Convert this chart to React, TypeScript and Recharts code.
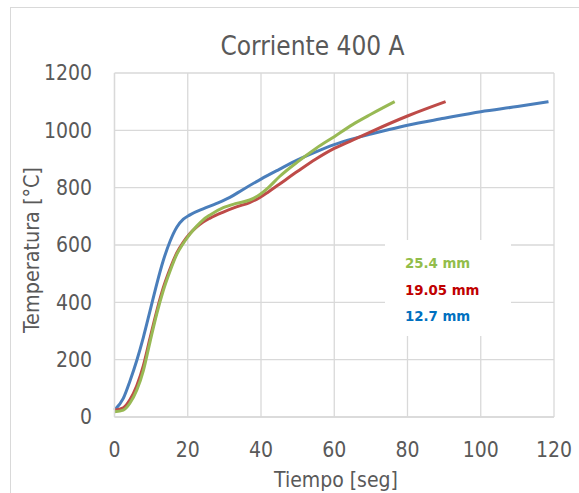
import { LineChart, Line, XAxis, YAxis, CartesianGrid, Legend } from 'recharts';

// tiempo [seg] / temperatura [°C]
const tiempo127 = [0, 2.4, 4.2, 6.1, 7.9, 9.7, 11.5, 13.3, 15.2, 17, 18.8, 20.6, 24.2, 27.9, 31.5, 35, 40, 45, 50, 55, 60, 65, 70, 75, 80, 90, 100, 110, 118.5];
const temp127 = [24, 65, 125, 198, 279, 370, 462, 545, 614, 662, 690, 705, 726, 745, 766, 793, 830, 864, 897, 925, 950, 970, 987, 1003, 1018, 1042, 1065, 1083, 1100];

const tiempo1905 = [0, 2.4, 4.2, 6.1, 7.9, 9.7, 11.5, 13.3, 15.2, 17, 18.8, 20.6, 22.4, 24.2, 26.1, 29.7, 33.3, 36.9, 39.6, 42, 45, 50, 55, 60, 65, 70, 80, 90.4];
const temp1905 = [24, 32, 60, 110, 180, 275, 368, 450, 518, 572, 610, 640, 662, 680, 694, 715, 733, 748, 765, 785, 812, 857, 900, 937, 966, 995, 1050, 1100];

const tiempo254 = [0, 2.4, 4.2, 6.1, 7.9, 9.7, 11.5, 13.3, 15.2, 17, 18.8, 20.6, 22.4, 24.2, 26.1, 29.7, 33.3, 36.9, 39.6, 42, 45, 50, 55, 60, 65, 70, 76.5];
const temp254 = [18, 24, 48, 94, 163, 262, 358, 440, 510, 567, 606, 638, 665, 688, 705, 730, 745, 757, 775, 800, 838, 890, 937, 978, 1020, 1056, 1100];

const xTicks = [0, 20, 40, 60, 80, 100, 120];
const yTicks = [0, 200, 400, 600, 800, 1000, 1200];

const series = [
  { name: '12.7 mm', t: tiempo127, v: temp127, line: '#4A7EBB', label: '#0070C0' },
  { name: '19.05 mm', t: tiempo1905, v: temp1905, line: '#BE4B48', label: '#C00000' },
  { name: '25.4 mm', t: tiempo254, v: temp254, line: '#98B954', label: '#92BD4A' },
];

const toRows = (t: number[], v: number[]) => t.map((x, i) => ({ t: x, temp: v[i] }));

const FONT = "'DejaVu Sans Condensed', 'DejaVu Sans', sans-serif";
const GREY = '#595959';

const LegendBox = () => (
  <div style={{ background: '#fff', width: 126, height: 96, boxSizing: 'border-box', paddingTop: 10, paddingLeft: 20 }}>
    {[...series].reverse().map((s) => (
      <div key={s.name} style={{ color: s.label, fontWeight: 'bold', fontSize: 14.8, lineHeight: '26.5px', fontFamily: FONT }}>
        {s.name}
      </div>
    ))}
  </div>
);

export default function App() {
  return (
    <div style={{ position: 'absolute', left: 0, top: 0, width: 579, height: 493, overflow: 'hidden', background: '#fff' }}>
      <div style={{ position: 'absolute', left: 10, top: 7, width: 700, height: 600, border: '1px solid #d9d9d9' }} />
      <div style={{ position: 'absolute', left: 0, top: 0 }}>
        <LineChart width={579} height={493} margin={{ top: 73, right: 25, bottom: 46, left: 0 }}>
          <CartesianGrid stroke="#d9d9d9" strokeWidth={1.3} />
          <XAxis
            type="number"
            dataKey="t"
            domain={[0, 120]}
            ticks={xTicks}
            allowDuplicatedCategory={false}
            height={30}
            tickLine={false}
            tickSize={0}
            tickMargin={25}
            axisLine={{ stroke: '#d9d9d9', strokeWidth: 1.3 }}
            tick={{ fill: GREY, fontSize: 21, fontFamily: FONT }}
          />
          <YAxis
            type="number"
            dataKey="temp"
            domain={[0, 1200]}
            ticks={yTicks}
            width={114.5}
            tickLine={false}
            tickSize={0}
            tickMargin={22.5}
            axisLine={{ stroke: '#d9d9d9', strokeWidth: 1.3 }}
            tick={{ fill: GREY, fontSize: 21, fontFamily: FONT }}
          />
          {series.map((s) => (
            <Line
              key={s.name}
              data={toRows(s.t, s.v)}
              dataKey="temp"
              name={s.name}
              type="monotone"
              stroke={s.line}
              strokeWidth={3}
              dot={false}
              isAnimationActive={false}
            />
          ))}
          <Legend
            layout="vertical"
            align="center"
            verticalAlign="middle"
            content={() => <LegendBox />}
            wrapperStyle={{ position: 'absolute', left: 385, top: 240, width: 126, height: 96 }}
          />
        </LineChart>
      </div>
      <svg width={579} height={493} style={{ position: 'absolute', left: 0, top: 0, pointerEvents: 'none' }}>
        <text x={312.5} y={55} textAnchor="middle" fontSize={26} fill={GREY} fontFamily={FONT}>
          Corriente 400 A
        </text>
        <text transform="translate(38.5,250) rotate(-90)" textAnchor="middle" fontSize={21.4} fill={GREY} fontFamily={FONT}>
          Temperatura [°C]
        </text>
        <text x={336} y={487} textAnchor="middle" fontSize={21} fill={GREY} fontFamily={FONT}>
          Tiempo [seg]
        </text>
      </svg>
    </div>
  );
}
